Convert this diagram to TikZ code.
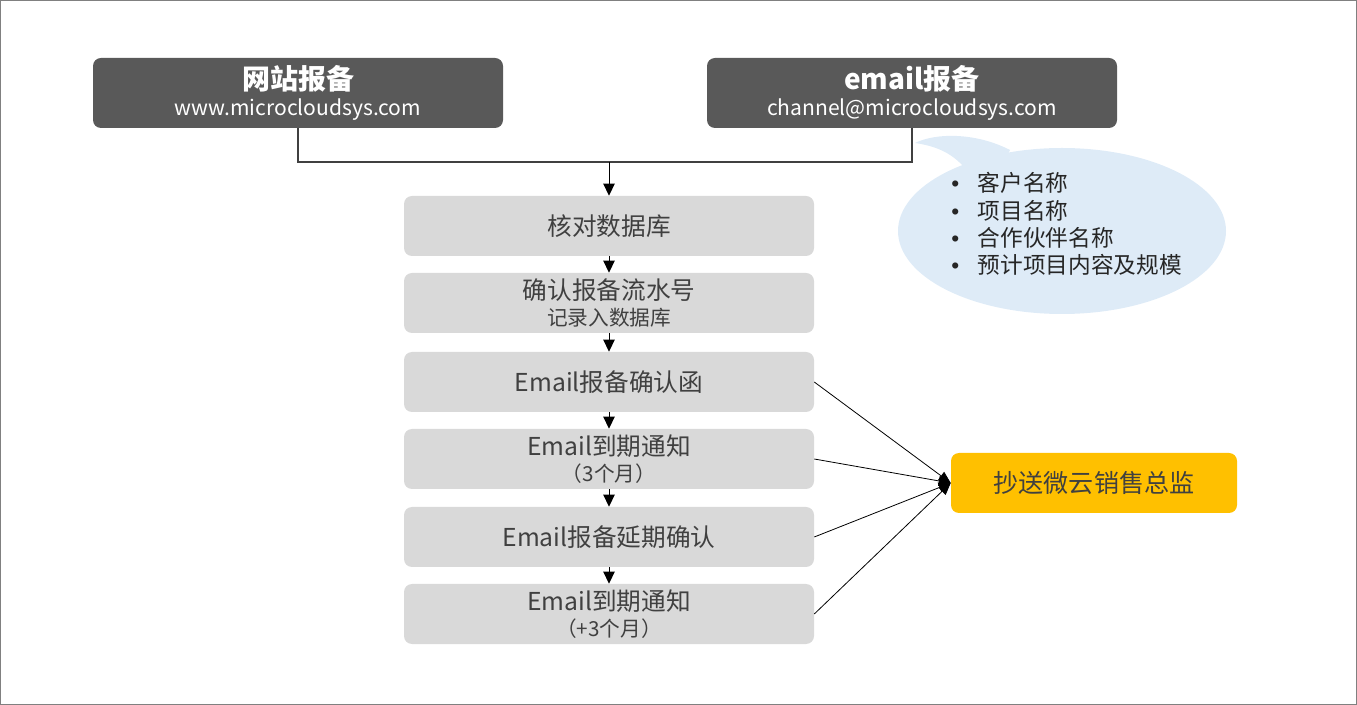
\documentclass[tikz,border=0pt]{standalone}
\usepackage{fontspec}
\setmainfont{Noto Sans CJK SC}
\newfontfamily\bulletfont{Liberation Sans}
\usetikzlibrary{arrows.meta,positioning}
\definecolor{darkbox}{HTML}{595959}
\definecolor{stepgray}{HTML}{D9D9D9}
\definecolor{steptext}{HTML}{404040}
\definecolor{ccyellow}{HTML}{FFC000}
\definecolor{bubble}{HTML}{DEEBF7}
\definecolor{framegray}{HTML}{808080}
\newcommand{\bul}{\makebox[20pt][l]{\bulletfont •}}

\begin{document}
\begin{tikzpicture}[x=0.75pt,y=-0.75pt,
	topbox/.style={fill=darkbox,text=white,rounded corners=6pt,minimum width=307.5pt,minimum height=52.5pt,inner sep=0pt,align=center},
	stepbox/.style={fill=stepgray,text=steptext,rounded corners=6pt,minimum width=307.5pt,minimum height=45pt,inner sep=0pt,align=center,font=\fontsize{18.5}{21}\selectfont},
	ccbox/.style={fill=ccyellow,text=steptext,rounded corners=6pt,minimum width=214.5pt,minimum height=45pt,inner sep=0pt,font=\fontsize{18.8}{21}\selectfont},
	flow/.style={-{Triangle[length=9pt,width=8.5pt]},line width=0.75pt},
	copyline/.style={-{Triangle[length=9pt,width=7.5pt]},line width=0.6pt}]
	\useasboundingbox (0,0) rectangle (1357,705);
	\draw[framegray,line width=0.75pt] (0.5,0.5) rectangle (1356.5,704.5);
	
	% callout bubble with the filing details
	\fill[bubble] (1062,231) ellipse [x radius=123pt,y radius=62.25pt];
	\fill[bubble] (915,143) .. controls (935,133) and (975,132) .. (1010,150) -- (1000,170) -- (963,166) .. controls (950,152) and (935,146) .. (915,143) -- cycle;
	\node[anchor=west,inner sep=0pt,align=left,text=black!85,font=\fontsize{17}{20.5}\selectfont] (info) at (951,224)
		{\bul 客户名称\\ \bul 项目名称\\ \bul 合作伙伴名称\\ \bul 预计项目内容及规模};
	
	% two ways of filing
	\node[topbox] (web) at (298,93) {{\fontsize{21}{23}\bfseries\selectfont 网站报备}\\[4pt]{\fontsize{15.8}{21}\selectfont www.microcloudsys.com}};
	\node[topbox] (mail) at (912,93) {{\fontsize{21}{23}\bfseries\selectfont email报备}\\[4pt]{\fontsize{15.8}{21}\selectfont channel@microcloudsys.com}};
	\coordinate (join) at (609,162);
	
	% process steps
	\node[stepbox] (s1) at (609,226) {核对数据库};
	\node[stepbox] (s2) at (609,303) {确认报备流水号\\[-2pt]{\fontsize{15.5}{19}\selectfont 记录入数据库}};
	\node[stepbox] (s3) at (609,382) {Email报备确认函};
	\node[stepbox] (s4) at (609,459) {Email到期通知\\[-2pt]{\fontsize{15.5}{19}\selectfont （3个月）}};
	\node[stepbox] (s5) at (609,537) {Email报备延期确认};
	\node[stepbox] (s6) at (609,614) {Email到期通知\\[-2pt]{\fontsize{15.5}{19}\selectfont （+3个月）}};
	
	\node[ccbox] (cc) at (1094,483) {抄送微云销售总监};
	
	% merging the two inputs
	\draw[steptext,line width=0.9pt] (web.south) |- (join) -| (mail.south);
	\draw[flow] (join) -- (s1.north);
	
	% arrows between steps
	\draw[flow] (s1.south) -- (s2.north);
	\draw[flow] (s2.south) -- (s3.north);
	\draw[flow] (s3.south) -- (s4.north);
	\draw[flow] (s4.south) -- (s5.north);
	\draw[flow] (s5.south) -- (s6.north);
	
	% copies to the sales director
	\draw[copyline] (s3.east) -- (cc.west);
	\draw[copyline] (s4.east) -- (cc.west);
	\draw[copyline] (s5.east) -- (cc.west);
	\draw[copyline] (s6.east) -- (cc.west);
\end{tikzpicture}
\end{document}
